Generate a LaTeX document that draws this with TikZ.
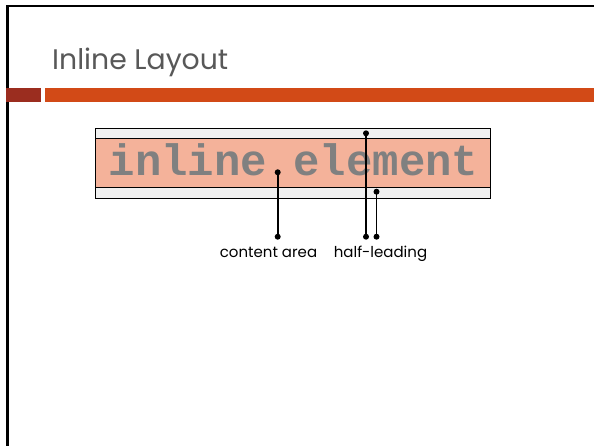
\documentclass[tikz,border=0pt]{standalone}
\usepackage{fontspec}
\setmainfont{Poppins}
\newfontfamily\codefont{Liberation Mono}
\definecolor{titlegray}{HTML}{585858}
\definecolor{darkred}{HTML}{9B2D1F}
\definecolor{barorange}{HTML}{D24A17}
\definecolor{salmon}{HTML}{F4B29A}
\definecolor{stripgray}{HTML}{F0F0F0}
\definecolor{codegray}{HTML}{808080}
\tikzset{
  pointer/.style={line width=1.8pt, black},
  dotmark/.style={circle, fill=black, inner sep=0pt, minimum size=6pt},
  labeltext/.style={font=\fontsize{15}{18}\selectfont, inner sep=0pt, anchor=base}
}
\begin{document}
\begin{tikzpicture}[x=1pt,y=-1pt]
\useasboundingbox (0,0) rectangle (594,445);
% frame
\draw[line width=2.8pt] (7.2,446) -- (7.2,6) -- (595,6);
% title
\node[anchor=base west, inner sep=0pt, text=titlegray, font=\fontsize{28.3}{32}\selectfont] (title) at (52,69) {Inline Layout};
% bars
\fill[darkred] (6,88) rectangle (41,102);
\fill[barorange] (45,88) rectangle (594,102);
% inline box
\draw[fill=stripgray, line width=0.9pt] (95,128) rectangle (490,198);
\draw[fill=salmon, line width=0.9pt] (95,138) rectangle (490,187);
\node[anchor=base, inner sep=0pt, text=codegray, font=\codefont\bfseries\fontsize{44}{48}\selectfont] (code) at (293.5,175) {inline element};
% dots and coordinates
\node[dotmark] (d1) at (277.7,172.3) {};
\node[dotmark] (e1) at (277.7,236.7) {};
\node[dotmark] (d2) at (366,133.3) {};
\node[dotmark] (e2) at (366,236.7) {};
\node[dotmark] (d3) at (376.5,191.7) {};
\node[dotmark] (e3) at (376.5,236.7) {};
\draw[pointer] (d1.center) -- (e1.center);
\draw[pointer] (d2.center) -- (e2.center);
\draw[pointer] (d3.center) -- (e3.center);
% labels
\node[labeltext] (l1) at (268.5,257) {content area};
\node[labeltext] (l2) at (380.5,257) {half-leading};
\end{tikzpicture}
\end{document}
